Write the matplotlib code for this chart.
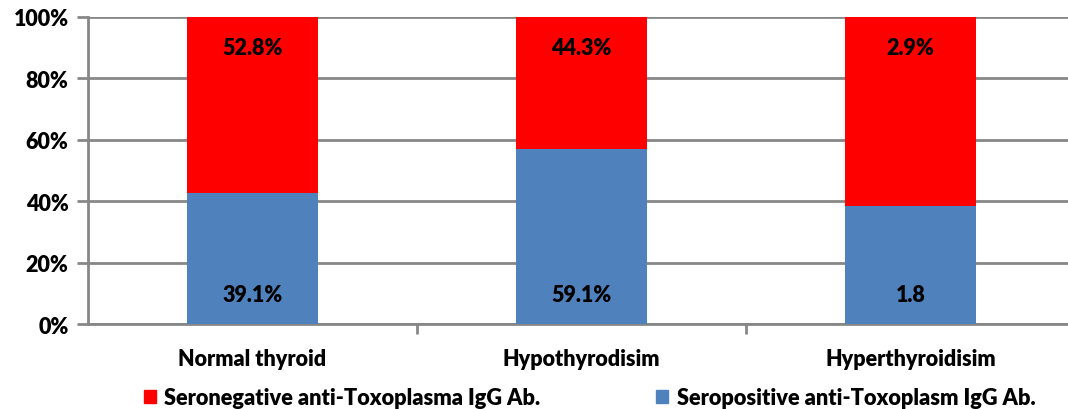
import matplotlib
matplotlib.use("Agg")
import matplotlib.pyplot as plt
from matplotlib.patches import Patch
import numpy as np

categories = ["Normal thyroid", "Hypothyrodisim", "Hyperthyroidisim"]
seropositive = [39.1, 59.1, 1.8]
seronegative = [52.8, 44.3, 2.9]
pos_labels = ["39.1%", "59.1%", "1.8"]
neg_labels = ["52.8%", "44.3%", "2.9%"]
neg_name = "Seronegative anti-Toxoplasma IgG Ab."
pos_name = "Seropositive anti-Toxoplasm IgG Ab."

plt.rcParams['font.family'] = ['Lato', 'DejaVu Sans']
plt.rcParams['font.weight'] = 'bold'

pos = np.array(seropositive)
neg = np.array(seronegative)
tot = pos + neg
pos_pct = pos / tot * 100
neg_pct = neg / tot * 100

W, H = 1068, 410
fig = plt.figure(figsize=(W / 100, H / 100), dpi=100)
ax = fig.add_axes([88 / W, 1 - 325 / H, (W - 88) / W, 307 / H])

blue = "#4f81bd"
red = "#ff0000"
x = np.arange(len(categories))
bw = 0.40
ax.bar(x, pos_pct, bw, color=blue, zorder=3)
ax.bar(x, neg_pct, bw, bottom=pos_pct, color=red, zorder=3)

for i in range(len(x)):
    ax.text(x[i], 9.5, pos_labels[i], ha='center', va='center', fontsize=15.5, fontweight='heavy', zorder=4)
    ax.text(x[i], 90, neg_labels[i], ha='center', va='center', fontsize=15.5, fontweight='heavy', zorder=4)

ax.set_xlim(-0.5, -0.5 + (W - 88) / 329)
ax.set_ylim(0, 100)
ax.set_yticks(np.arange(0, 101, 20))
ax.set_yticklabels([f"{v}%" for v in range(0, 101, 20)], fontsize=15.5, fontweight='heavy')
ax.yaxis.grid(True, color="#878787", linewidth=2, zorder=0)
ax.set_axisbelow(True)

ax.set_xticks([0.5, 1.5])
ax.set_xticklabels([])
ax.set_xticks(x, minor=True)
ax.set_xticklabels(categories, minor=True, fontsize=15.5, fontweight='heavy')
ax.tick_params(axis='x', which='minor', length=0, pad=17)
ax.tick_params(axis='x', which='major', length=7, width=2, color="#878787", direction='out')
ax.tick_params(axis='y', length=8, width=2, color="#878787", pad=6)

for s in ['top', 'right']:
    ax.spines[s].set_visible(False)
for s in ['left', 'bottom']:
    ax.spines[s].set_color("#878787")
    ax.spines[s].set_linewidth(2)
ax.spines['left'].set_bounds(0, 100)

handles = [Patch(color=red, label=neg_name), Patch(color=blue, label=pos_name)]
fig.legend(handles=handles, loc='center', bbox_to_anchor=(0.552, 1 - 399 / H), ncol=2,
           frameon=False, prop={'weight': 'heavy', 'size': 15.7},
           handlelength=0.55, handleheight=0.55, handletextpad=0.4, columnspacing=5.3)

fig.savefig("out.png", dpi=100)
